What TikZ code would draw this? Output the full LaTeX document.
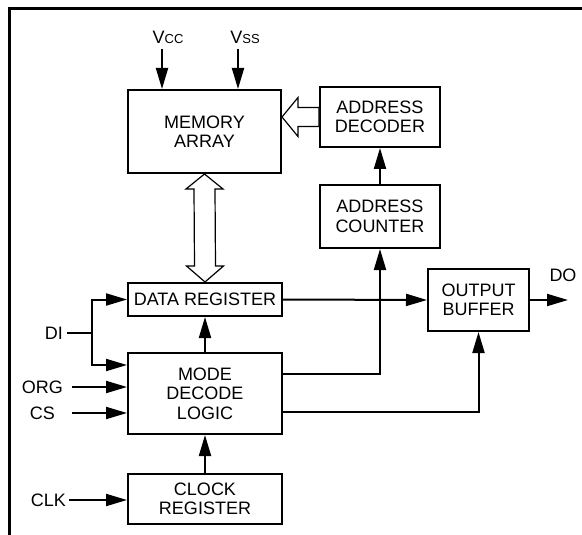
\documentclass[tikz,border=0pt]{standalone}
\usepackage{fontspec}
\setmainfont{Liberation Sans}
\usepackage{tikz}
\usetikzlibrary{arrows.meta,calc}

\tikzset{
  blk/.style={draw, line width=2pt, align=center, inner sep=0pt,
    font=\fontsize{18}{19.5}\selectfont},
  lbl/.style={inner sep=0pt, font=\fontsize{18}{19.5}\selectfont},
  sig/.style={line width=2pt, -{Triangle[length=21pt,width=12pt]}},
  wire/.style={line width=2pt},
  bus/.style={line width=1.2pt, fill=white, line join=miter}
}
\newcommand{\smc}[1]{{\fontsize{13}{13}\selectfont #1}}

\begin{document}
\begin{tikzpicture}[x=1pt,y=-1pt]
\useasboundingbox (0,0) rectangle (582,535);
\draw[line width=3pt] (9.5,535) -- (9.5,9) -- (582,9);
% blocks
\node[blk, minimum width=153pt, minimum height=83pt] (mem) at (204.5,131.5) {MEMORY\\ARRAY};
\node[blk, minimum width=120pt, minimum height=60pt] (dec) at (380,117) {ADDRESS\\DECODER};
\node[blk, minimum width=120pt, minimum height=63pt] (cnt) at (380,216.5) {ADDRESS\\COUNTER};
\node[blk, minimum width=101pt, minimum height=62pt] (obuf) at (478.5,300) {OUTPUT\\BUFFER};
\node[blk, minimum width=154pt, minimum height=33pt] (dreg) at (205,299.5) {DATA REGISTER};
\node[blk, minimum width=154pt, minimum height=81pt] (mode) at (205,393.5) {MODE\\DECODE\\LOGIC};
\node[blk, minimum width=154pt, minimum height=50pt] (clk) at (205,499) {CLOCK\\REGISTER};
% labels
\node[lbl] (vcc) at (168,37) {V\smc{CC}};
\node[lbl] (vss) at (245,37) {V\smc{SS}};
\node[lbl, anchor=east] (di) at (63,333) {DI};
\node[lbl, anchor=east] (org) at (63,387) {ORG};
\node[lbl, anchor=east] (cs) at (55,413) {CS};
\node[lbl, anchor=east] (clkin) at (66,500) {CLK};
\node[lbl] (do) at (563,275) {DO};
\coordinate (vccin) at (162,49);
\coordinate (vssin) at (238,49);
\coordinate (dij) at (92,333);
\coordinate (dout) at (568,300);
% power
\draw[sig] (vccin) -- (vccin |- mem.north);
\draw[sig] (vssin) -- (vssin |- mem.north);
% buses
\draw[bus] (mem.south) -- ++(18.5,15) -- ++(-8,0) -- ($(dreg.north)+(10.5,-16)$) -- ++(8,0)
  -- (dreg.north) -- ++(-18.5,-16) -- ++(8,0) -- ($(mem.south)+(-10.5,15)$) -- ++(-8,0) -- cycle;
\draw[bus] (mem.east |- dec.west) coordinate (tip) -- ++(16,-19.5) -- ++(0,10) -- ($(dec.west)+(0,-9.5)$)
  -- ($(dec.west)+(0,9.5)$) -- ($(tip)+(16,9.5)$) -- ++(0,10) -- cycle;
% signals
\draw[sig] (cnt.north) -- (dec.south);
\draw[sig] (mode.north) -- (dreg.south);
\draw[sig] (clk.north) -- (mode.south);
\draw[sig] (dreg.east) -- (obuf.west);
\draw[sig] (obuf.east) -- (dout);
\draw[sig] ([yshift=19.5pt]mode.east) -| (cnt.south);
\draw[sig] ([yshift=-18.5pt]mode.east) -| (obuf.south);
\draw[wire] ([xshift=4pt]di.east) -- (dij);
\draw[sig] (dij) |- (dreg.west);
\draw[sig] (dij) |- ([yshift=28.5pt]mode.west);
\draw[sig] ([xshift=9pt]org.east) -- (org.east -| mode.west);
\draw[sig] ([xshift=17pt]cs.east) -- (cs.east -| mode.west);
\draw[sig] ([xshift=3pt]clkin.east) -- (clkin.east -| clk.west);
\end{tikzpicture}
\end{document}
